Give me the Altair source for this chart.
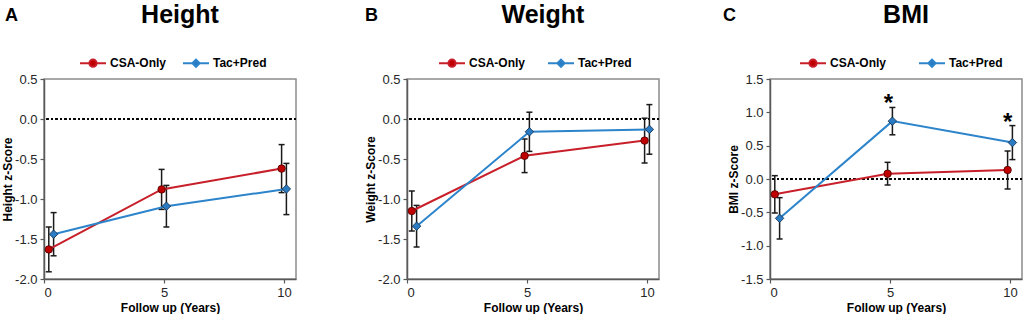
import altair as alt
import pandas as pd

# ---------------- data ----------------
groups = ["CSA-Only", "Tac+Pred"]
years_csa = [0.2, 4.9, 9.9]
years_tac = [0.4, 5.1, 10.1]

height_csa = [-1.63, -0.88, -0.62]
height_csa_err = [0.28, 0.25, 0.30]
height_tac = [-1.44, -1.09, -0.875]
height_tac_err = [0.27, 0.26, 0.32]

weight_csa = [-1.15, -0.46, -0.27]
weight_csa_err = [0.25, 0.21, 0.28]
weight_tac = [-1.34, -0.16, -0.13]
weight_tac_err = [0.26, 0.245, 0.31]

bmi_csa = [-0.23, 0.08, 0.135]
bmi_csa_err = [0.28, 0.17, 0.285]
bmi_tac = [-0.59, 0.868, 0.546]
bmi_tac_err = [0.31, 0.205, 0.255]

bmi_star_x = [4.93, 9.9]
bmi_star_y = [1.22, 0.93]
star_text = ["*", "*"]

panel_titles = ["Height", "Weight", "BMI"]
panel_letters = ["A", "B", "C"]
y_titles = ["Height z-Score", "Weight z-Score", "BMI z-Score"]
x_title = "Follow up (Years)"
x_ticks = [0, 5, 10]
y_ticks_hw = [-2.0, -1.5, -1.0, -0.5, 0.0, 0.5]
y_ticks_bmi = [-1.5, -1.0, -0.5, 0.0, 0.5, 1.0, 1.5]

# ---------------- style ----------------
FONT = "Liberation Sans"
RED_LINE = "#C8202A"
BLUE_LINE = "#2C84CB"
RED_FILL = "#C00000"
BLUE_FILL = "#2A7BC2"
RED_EDGE = "#4a0000"
BLUE_EDGE = "#0d2a48"
W, H = 252, 200

circ_path = "M-1,0H-0.28M0.28,0H1M0.28,0A0.28,0.28,0,1,1,-0.28,0A0.28,0.28,0,1,1,0.28,0Z"
diam_path = "M-1,0H-0.28M0.28,0H1M-0.28,0L0,-0.28L0.28,0L0,0.28Z"

label_expr = "(datum.value < 0 ? '-' : '') + format(abs(datum.value), '.1f')"


def make_df(csa, csa_err, tac, tac_err):
    rows = []
    for x, y, e in zip(years_csa, csa, csa_err):
        rows.append({"x": x, "y": y, "lo": y - e, "hi": y + e, "group": groups[0]})
    for x, y, e in zip(years_tac, tac, tac_err):
        rows.append({"x": x, "y": y, "lo": y - e, "hi": y + e, "group": groups[1]})
    return pd.DataFrame(rows)


def panel(idx, df, y_dom, y_ticks, letter_dx, legend_x, legend_pad, stars=None):
    base = alt.Chart(df)
    xs = alt.Scale(domain=[0, 10.5], nice=False, zero=False)
    ys = alt.Scale(domain=y_dom, nice=False, zero=False)
    x_enc = alt.X("x:Q", scale=xs, axis=alt.Axis(
        values=x_ticks, tickCount=20, format="d", grid=False, tickSize=4, labelPadding=3,
        title=x_title, titlePadding=3))
    y_enc = alt.Y("y:Q", scale=ys, axis=alt.Axis(
        values=y_ticks, tickCount=20, labelExpr=label_expr, grid=False, tickSize=4,
        labelPadding=3, title=y_titles[idx], titlePadding=0))

    zero = base.mark_rule(color="black", strokeWidth=1.5, strokeDash=[2, 2.5]).encode(
        y=alt.datum(0))
    err = base.mark_rule(color="#1a1a1a", strokeWidth=1.5).encode(
        x=alt.X("x:Q"), y=alt.Y("lo:Q"), y2="hi:Q")
    cap_lo = base.mark_tick(color="#1a1a1a", thickness=1.5, size=6,
                            orient="horizontal", opacity=1).encode(x="x:Q", y="lo:Q")
    cap_hi = base.mark_tick(color="#1a1a1a", thickness=1.5, size=6,
                            orient="horizontal", opacity=1).encode(x="x:Q", y="hi:Q")
    line_csa = base.transform_filter(alt.datum.group == groups[0]).mark_line(
        strokeWidth=2, color=RED_LINE).encode(x=x_enc, y=y_enc)
    line_tac = base.transform_filter(alt.datum.group == groups[1]).mark_line(
        strokeWidth=2, color=BLUE_LINE).encode(x="x:Q", y="y:Q")
    pts_csa = base.transform_filter(alt.datum.group == groups[0]).mark_point(
        shape="circle", size=56, filled=True, fill=RED_FILL, stroke=RED_EDGE,
        strokeWidth=0.8, opacity=1).encode(x="x:Q", y="y:Q")
    pts_tac = base.transform_filter(alt.datum.group == groups[1]).mark_point(
        shape="diamond", size=72, filled=True, fill=BLUE_FILL, stroke=BLUE_EDGE,
        strokeWidth=0.8, opacity=1).encode(x="x:Q", y="y:Q")

    leg = alt.Legend(orient="none", direction="horizontal", legendX=legend_x, legendY=-30,
                     title=None, symbolSize=676, symbolStrokeWidth=2, labelFont=FONT,
                     labelFontSize=12, labelFontWeight="bold", labelColor="black",
                     labelOffset=3, columnPadding=legend_pad)
    # legend carrier: points pushed outside the x domain and clipped away
    legend_layer = base.transform_calculate(xo="-100").mark_point(
        filled=True, opacity=1, clip=True).encode(
        x="xo:Q", y="y:Q",
        fill=alt.Fill("group:N", scale=alt.Scale(domain=groups, range=[RED_FILL, BLUE_FILL]),
                      legend=leg),
        stroke=alt.Stroke("group:N", scale=alt.Scale(domain=groups, range=[RED_LINE, BLUE_LINE]),
                          legend=leg),
        shape=alt.Shape("group:N", scale=alt.Scale(domain=groups, range=[circ_path, diam_path]),
                        legend=leg))

    letter = alt.Chart(pd.DataFrame({"t": [panel_letters[idx]]})).mark_text(
        font=FONT, fontSize=18, fontWeight="bold", align="left", baseline="alphabetic",
        color="black").encode(x=alt.value(letter_dx), y=alt.value(-58), text="t:N")
    title = alt.Chart(pd.DataFrame({"t": [panel_titles[idx]]})).mark_text(
        font=FONT, fontSize=25, fontWeight="bold", align="center", baseline="alphabetic",
        color="black").encode(x=alt.value(W / 2 + 10), y=alt.value(-56), text="t:N")

    layers = [zero, err, cap_lo, cap_hi, line_csa, line_tac, pts_csa, pts_tac]
    if stars is not None:
        sdf = pd.DataFrame({"x": stars[0], "y": stars[1], "t": stars[2]})
        star = alt.Chart(sdf).mark_text(font=FONT, fontSize=24, fontWeight="bold",
                                        align="center", baseline="middle", dy=6,
                                        color="black").encode(x="x:Q", y="y:Q", text="t:N")
        layers.append(star)
    layers += [legend_layer, letter, title]

    return alt.layer(*layers).properties(width=W, height=H)


pA = panel(0, make_df(height_csa, height_csa_err, height_tac, height_tac_err),
           [-2.0, 0.5], y_ticks_hw, -39, 35, 12)
pB = panel(1, make_df(weight_csa, weight_csa_err, weight_tac, weight_tac_err),
           [-2.0, 0.5], y_ticks_hw, -42, 31, 18)
pC = panel(2, make_df(bmi_csa, bmi_csa_err, bmi_tac, bmi_tac_err),
           [-1.5, 1.5], y_ticks_bmi, -47, 29, 28,
           stars=(bmi_star_x, bmi_star_y, star_text))

chart = alt.hconcat(pA, pB, pC, spacing=111, bounds="flush").resolve_scale(
    fill="independent", stroke="independent", shape="independent"
).properties(
    padding={"left": 0, "top": 2, "right": 0, "bottom": 0}
).configure_view(stroke="#8c8c8c", strokeWidth=1.5).configure_axis(
    labelFont=FONT, labelFontSize=13, labelColor="#262626",
    titleFont=FONT, titleFontSize=12, titleFontWeight="bold", titleColor="black",
    domainColor="#595959", domainWidth=1.5, tickColor="#595959", tickWidth=1.2
)

chart.save("out.html", embed_options={"renderer": "svg", "actions": False})
